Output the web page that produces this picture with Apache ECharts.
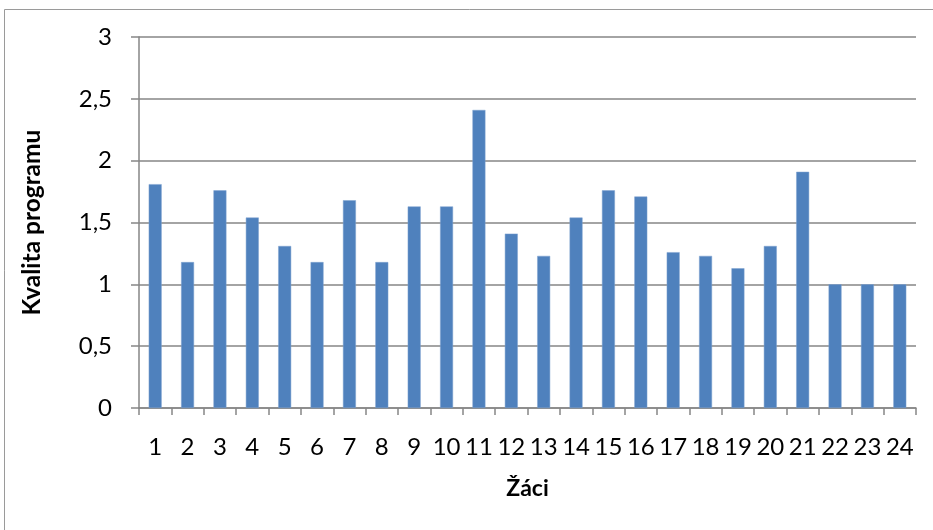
<!DOCTYPE html>
<html><head><meta charset="utf-8">
<script src="https://cdn.jsdelivr.net/npm/echarts@6/dist/echarts.min.js"></script>
<style>html,body{margin:0;padding:0;background:#fff}#c{width:933px;height:530px}</style>
</head><body><div id="c"></div>
<script>
const categories = ['1','2','3','4','5','6','7','8','9','10','11','12','13','14','15','16','17','18','19','20','21','22','23','24'];
const values = [1.81,1.18,1.76,1.54,1.31,1.18,1.68,1.18,1.63,1.63,2.41,1.41,1.23,1.54,1.76,1.71,1.26,1.23,1.13,1.31,1.91,1.0,1.0,1.0];
const yTicks = [0,0.5,1,1.5,2,2.5,3];
const xName = 'Žáci';
const yName = 'Kvalita programu';

const FONT = "Lato, 'Open Sans', sans-serif";
const chart = echarts.init(document.getElementById('c'), null, {renderer:'canvas'});
chart.setOption({
  animation:false,
  backgroundColor:'#fff',
  graphic:[{type:'rect',shape:{x:4.5,y:9.5,width:1000,height:600},style:{fill:'none',stroke:'#9a9a9a',lineWidth:1},silent:true}],
  grid:{left:139,right:17,top:37,bottom:122,containLabel:false},
  xAxis:{type:'category',data:categories,
    name:xName,nameLocation:'middle',nameGap:69,
    nameTextStyle:{fontFamily:FONT,fontSize:23,fontWeight:'bold',color:'#000'},
    axisLine:{lineStyle:{color:'#868686',width:1.5}},
    axisTick:{show:true,alignWithLabel:false,length:7,lineStyle:{color:'#868686',width:1.5}},
    axisLabel:{fontFamily:FONT,fontSize:24,color:'#000',margin:27,interval:0}},
  yAxis:{type:'value',min:yTicks[0],max:yTicks[yTicks.length-1],interval:0.5,
    name:yName,nameLocation:'middle',nameGap:94,nameRotate:90,
    nameTextStyle:{fontFamily:FONT,fontSize:24.5,fontWeight:'bold',color:'#000'},
    axisLine:{show:true,lineStyle:{color:'#868686',width:1.5}},
    axisTick:{show:true,length:8,lineStyle:{color:'#868686',width:1.5}},
    splitLine:{lineStyle:{color:'#868686',width:1.5}},
    axisLabel:{fontFamily:FONT,fontSize:24,color:'#000',margin:27,
      formatter:v=>String(v).replace('.',',')}},
  series:[{type:'bar',data:values,barWidth:'40%',
    itemStyle:{color:'#4F81BD',borderColor:'#7fa3d0',borderWidth:0.5}}]
});
</script></body></html>
